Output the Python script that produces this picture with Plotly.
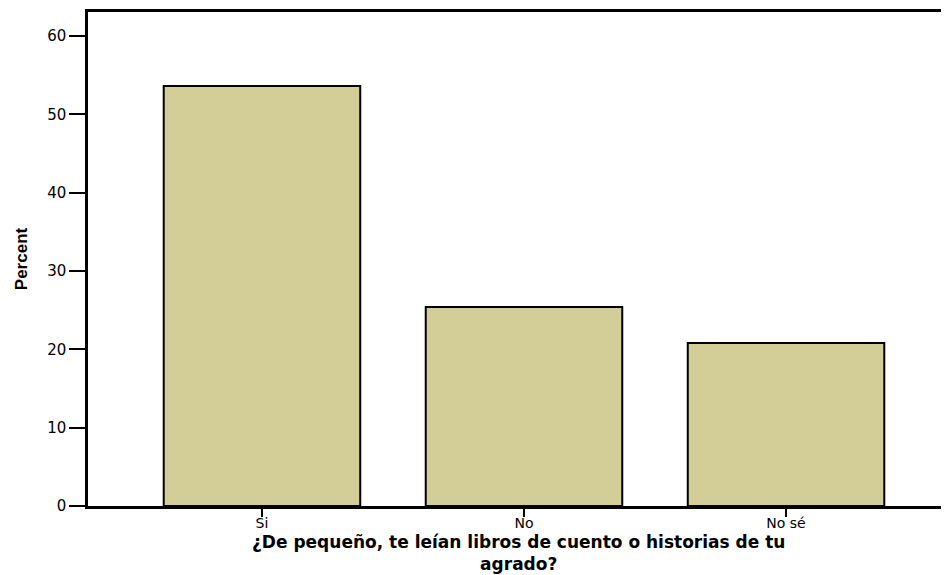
import plotly.graph_objects as go

categories = ["Si", "No", "No sé"]
percent = [53.6, 25.4, 20.8]
y_ticks = [0, 10, 20, 30, 40, 50, 60]
x_title_lines = ["¿De pequeño, te leían libros de cuento o historias de tu", "agrado?"]
y_title = "Percent"

fig = go.Figure()
fig.add_trace(go.Bar(
    x=categories, y=percent, width=0.75,
    marker=dict(color="#d3cd98", line=dict(color="black", width=2)),
))

# page body has an 8px margin, so the figure is sized to fill the window
W, H = 941, 567
fig.update_layout(
    width=W, height=H,
    margin=dict(l=80, r=0, t=4, b=69),
    plot_bgcolor="white", paper_bgcolor="white",
    showlegend=False,
    font=dict(family="DejaVu Sans, sans-serif", color="black"),
    xaxis=dict(
        range=[-0.664, 2.622],
        showline=True, linecolor="black", linewidth=2.5, mirror=True,
        ticks="outside", ticklen=8, tickwidth=2, tickcolor="black",
        tickfont=dict(size=14),
        ticklabelstandoff=-6,
        showgrid=False,
    ),
    yaxis=dict(
        range=[0, 63.06],
        tickvals=y_ticks,
        showline=True, linecolor="black", linewidth=2.5,
        ticks="outside", ticklen=16, tickwidth=2, tickcolor="black",
        tickfont=dict(size=15),
        showgrid=False, zeroline=False,
        title=dict(
            text="<b>" + y_title + "</b>",
            font=dict(size=17, family="Liberation Sans Narrow, Arial Narrow, sans-serif"),
            standoff=16,
        ),
    ),
)

plot_h = H - 4 - 69
fig.add_annotation(
    text="<b>" + "<br>".join(x_title_lines) + "</b>",
    xref="paper", yref="paper", x=0.5, y=(506 - 553) / plot_h,
    xanchor="center", yanchor="middle", showarrow=False,
    font=dict(size=17, family="DejaVu Sans, sans-serif", color="black"),
)

fig.write_html("out.html")
